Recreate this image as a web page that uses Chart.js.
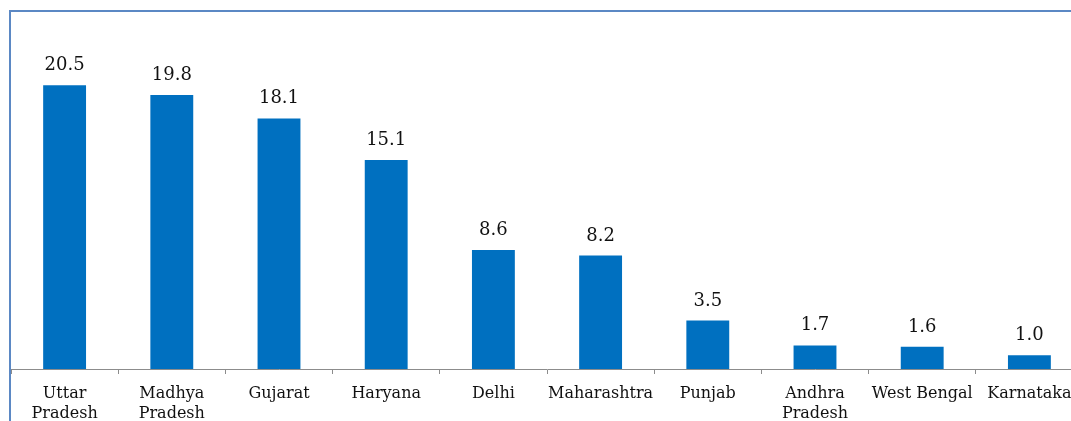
<!DOCTYPE html>
<html>
<head>
<meta charset="utf-8">
<script src="https://cdn.jsdelivr.net/npm/chart.js@4"></script>
<style>
    html, body { margin: 0; padding: 0; background: #fff; overflow: hidden; }
    #wrap { position: relative; width: 1071px; height: 421px; overflow: hidden; }
    #frame {
        position: absolute; left: 9px; top: 10px; width: 1100px; height: 430px;
        border-left: 2px solid #5b88c4; border-top: 2px solid #5b88c4;
    }
    #chart { position: absolute; left: 0; top: 0; }
</style>
</head>
<body>
<div id="wrap">
    <div id="frame"></div>
    <canvas id="chart" width="1083" height="434"></canvas>
</div>
<script>
const states = [['Uttar', 'Pradesh'], ['Madhya', 'Pradesh'], 'Gujarat', 'Haryana', 'Delhi',
    'Maharashtra', 'Punjab', ['Andhra', 'Pradesh'], 'West Bengal', 'Karnataka'];
const shares = [20.5, 19.8, 18.1, 15.1, 8.6, 8.2, 3.5, 1.7, 1.6, 1.0];

// values printed above each bar
const barLabels = {
    id: 'barLabels',
    afterDatasetsDraw(chart) {
        const ctx = chart.ctx;
        const meta = chart.getDatasetMeta(0);
        ctx.save();
        ctx.font = '18px "DejaVu Serif"';
        ctx.fillStyle = '#111';
        ctx.textAlign = 'center';
        ctx.textBaseline = 'alphabetic';
        meta.data.forEach(function(bar, i) {
            ctx.fillText(shares[i].toFixed(1), bar.x, bar.y - 15);
        });
        ctx.restore();
    }
};

const ctx = document.getElementById('chart').getContext('2d');
new Chart(ctx, {
    type: 'bar',
    data: {
        labels: states,
        datasets: [{
            data: shares,
            backgroundColor: '#0070c0',
            categoryPercentage: 1,
            barPercentage: 0.4
        }]
    },
    options: {
        responsive: false,
        animation: false,
        layout: { padding: { left: 11, top: 23, right: 0, bottom: 0 } },
        plugins: {
            legend: { display: false },
            tooltip: { enabled: false }
        },
        scales: {
            x: {
                grid: {
                    drawOnChartArea: false,
                    offset: true,
                    tickLength: 5,
                    color: '#8c8c8c'
                },
                border: { color: '#8c8c8c', width: 1 },
                ticks: {
                    color: '#111',
                    padding: 10,
                    maxRotation: 0,
                    autoSkip: false,
                    font: { family: 'DejaVu Serif', size: 16, lineHeight: 1.25 }
                }
            },
            y: {
                display: false,
                min: 0,
                max: 25
            }
        }
    },
    plugins: [barLabels]
});
</script>
</body>
</html>
